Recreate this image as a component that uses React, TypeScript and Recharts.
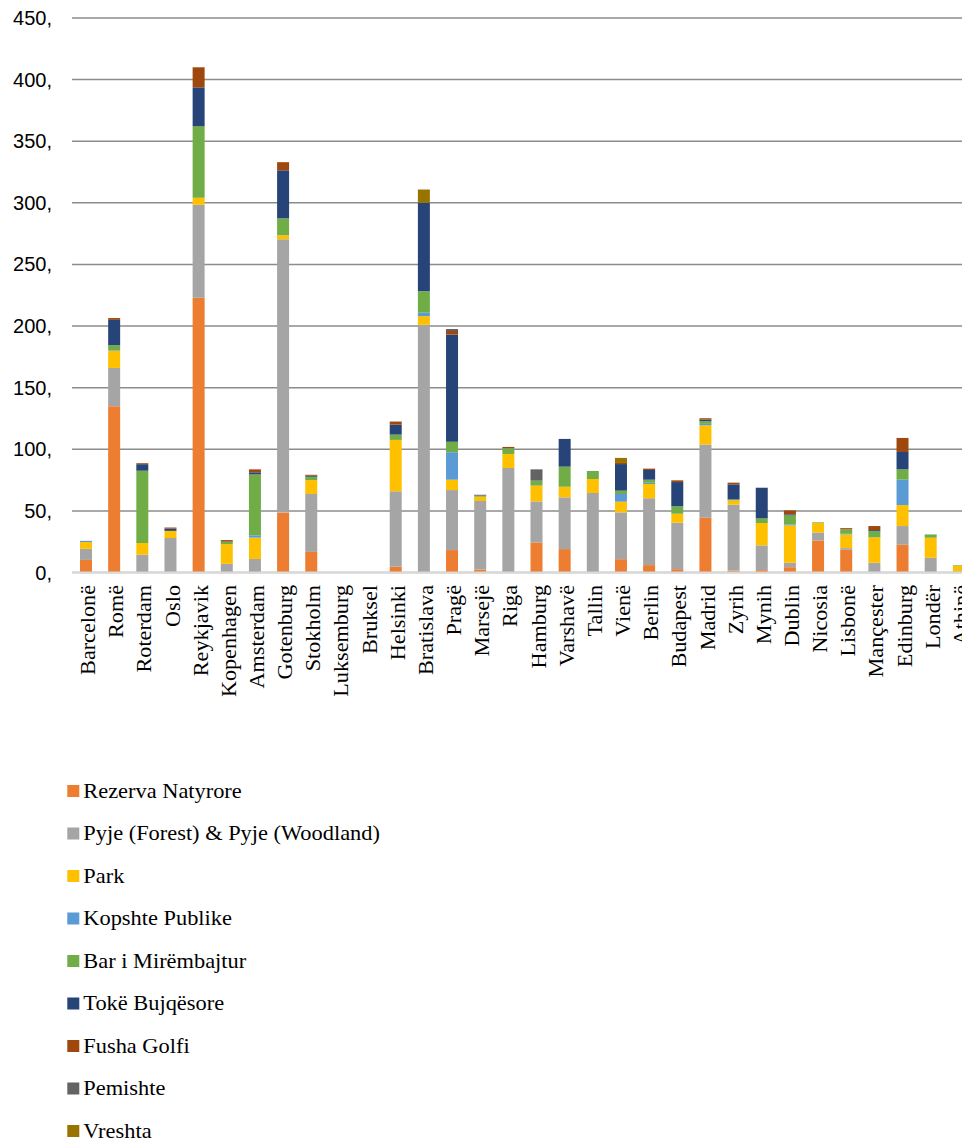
import React from 'react';
import { BarChart, Bar, XAxis, YAxis, CartesianGrid } from 'recharts';

const cities = [
  'Barcelonë', 'Romë', 'Roterdam', 'Oslo', 'Reykjavik', 'Kopenhagen', 'Amsterdam', 'Gotenburg',
  'Stokholm', 'Luksemburg', 'Bruksel', 'Helsinki', 'Bratislava', 'Pragë', 'Marsejë', 'Riga',
  'Hamburg', 'Varshavë', 'Tallin', 'Vienë', 'Berlin', 'Budapest', 'Madrid', 'Zyrih',
  'Mynih', 'Dublin', 'Nicosia', 'Lisbonë', 'Mançester', 'Edinburg', 'Londër', 'Athinë',
];

const seriesNames = [
  'Rezerva Natyrore',
  'Pyje (Forest) & Pyje (Woodland)',
  'Park',
  'Kopshte Publike',
  'Bar i Mirëmbajtur',
  'Tokë Bujqësore',
  'Fusha Golfi',
  'Pemishte',
  'Vreshta',
];

const seriesColors = ['#ED7D31', '#A5A5A5', '#FFC000', '#5B9BD5', '#70AD47', '#264478', '#9E480E', '#636363', '#997300'];

const rezervaNatyrore = [10.2, 135, 0, 0.5, 223, 0, 0, 48.6, 16.7, 0, 0, 4.6, 0, 18.2, 2.4, 0, 24.4, 19, 0, 10.8, 6, 2.7, 44.4, 1.6, 1.9, 4.3, 26, 18.4, 0, 22.5, 0, 0];
const pyje = [9, 31, 14.5, 27.5, 75.4, 7, 11, 221.8, 47, 0, 0, 61.3, 201, 48.7, 55.6, 84.8, 33.3, 42, 64.5, 38, 54.2, 37.7, 59.4, 53.4, 20.1, 3.6, 6.5, 1.4, 7.9, 15.2, 11.9, 1];
const park = [5.5, 14, 9.5, 5.8, 5.8, 16, 17.3, 3.3, 11.3, 0, 0, 41.7, 7, 8.4, 3.5, 11.4, 12.8, 8.6, 11.4, 8.7, 11.6, 7.3, 15.7, 3.5, 18.1, 30.3, 7.6, 11.1, 20.6, 17, 16.3, 4.4];
const kopshtePublike = [1, 0.5, 0, 0, 0, 0, 1.9, 0, 0, 0, 0, 0, 2.8, 22.3, 0, 0, 0, 0, 0, 6.2, 1, 0, 1.1, 0, 0, 0.8, 0, 0.5, 0, 20.6, 0, 0];
const barMirembajtur = [0, 4, 58.6, 0, 57.9, 2, 49.4, 13.7, 2.7, 0, 0, 4.3, 17.4, 8.6, 0.8, 4.6, 4, 16.3, 6.5, 2.7, 2.5, 6, 2.2, 0.8, 3.8, 7.3, 0.6, 3.6, 5.1, 8.4, 2.7, 0.5];
const tokeBujqesore = [0, 20.5, 5.3, 1.9, 31.6, 0, 1.7, 39, 0.8, 0, 0, 8.1, 71.8, 86.8, 0, 0, 0, 22.5, 0, 21.6, 7.9, 19.7, 1.3, 12.2, 24.9, 0.9, 0, 0, 0.8, 14.1, 0, 0];
const fushaGolfi = [0, 1.5, 0.8, 0.8, 16.3, 1.3, 2.4, 6.6, 0.8, 0, 0, 2.5, 0, 3, 0, 1.1, 0, 0, 0, 0.9, 1.1, 1.4, 1.1, 1.4, 0, 3.2, 0, 1, 3.3, 11.4, 0, 0];
const pemishte = [0, 0, 0, 0, 0, 0, 0, 0, 0, 0, 0, 0, 0, 1.6, 0.8, 0, 9.2, 0, 0, 0, 0, 0, 0, 0, 0, 0, 0, 0, 0, 0, 0, 0];
const vreshta = [0, 0, 0, 0, 0, 0, 0, 0, 0, 0, 0, 0, 10.8, 0, 0, 0, 0, 0, 0, 4.1, 0, 0, 0, 0, 0, 0, 0, 0, 0, 0, 0, 0];

const yTicks = [0, 50, 100, 150, 200, 250, 300, 350, 400, 450];

const seriesValues = [rezervaNatyrore, pyje, park, kopshtePublike, barMirembajtur, tokeBujqesore, fushaGolfi, pemishte, vreshta];
const keys = seriesNames.map((_, i) => `s${i}`);

const data = cities.map((city, ci) => {
  const row: Record<string, string | number> = { city };
  seriesValues.forEach((arr, si) => {
    row[keys[si]] = arr[ci];
  });
  return row;
});

const serif = "'Liberation Serif', 'Times New Roman', serif";
const sans = "'Liberation Sans', Arial, sans-serif";

const XTick = (props: any) => {
  const { x, payload } = props;
  return (
    <g transform={`translate(${x + 9},585) rotate(-90) scale(1.11,1)`}>
      <text x={0} y={0} textAnchor="end" fontFamily={serif} fontSize={20} fill="#000">
        {payload.value}
      </text>
    </g>
  );
};

const YTick = (props: any) => {
  const { y, payload } = props;
  return (
    <text x={52} y={y + 7} textAnchor="end" fontFamily={sans} fontSize={20} fill="#000">
      {`${payload.value},`}
    </text>
  );
};

export default function App() {
  return (
    <div style={{ position: 'fixed', left: 0, top: 0, width: 962, height: 1143, overflow: 'hidden', background: '#fff' }}>
      <div style={{ position: 'absolute', left: 0, top: 0 }}>
        <BarChart
          width={973}
          height={780}
          data={data}
          margin={{ top: 18, right: 0, bottom: 0, left: 0 }}
          barSize={12}
        >
          <CartesianGrid vertical={false} stroke="#8c8c8c" strokeWidth={1.5} />
          <XAxis
            dataKey="city"
            interval={0}
            height={207.5}
            tickLine={false}
            axisLine={{ stroke: '#d9d9d9', strokeWidth: 2 }}
            tick={<XTick />}
          />
          <YAxis
            width={72}
            domain={[0, 450]}
            ticks={yTicks}
            interval={0}
            axisLine={false}
            tickLine={false}
            tick={<YTick />}
          />
          {keys.map((k, i) => (
            <Bar key={k} dataKey={k} name={seriesNames[i]} stackId="a" fill={seriesColors[i]} isAnimationActive={false} />
          ))}
        </BarChart>
      </div>
      <svg style={{ position: 'absolute', left: 0, top: 0 }} width={962} height={1143}>
        {seriesNames.map((name, i) => {
          const cy = 791 + 42.5 * i;
          return (
            <g key={name}>
              <rect x={67.3} y={cy - 6} width={12} height={12} fill={seriesColors[i]} />
              <text
                transform={`translate(83.3,${cy + 6.7}) scale(1.12,1)`}
                fontFamily={serif}
                fontSize={20}
                fill="#000"
              >
                {name}
              </text>
            </g>
          );
        })}
      </svg>
    </div>
  );
}
